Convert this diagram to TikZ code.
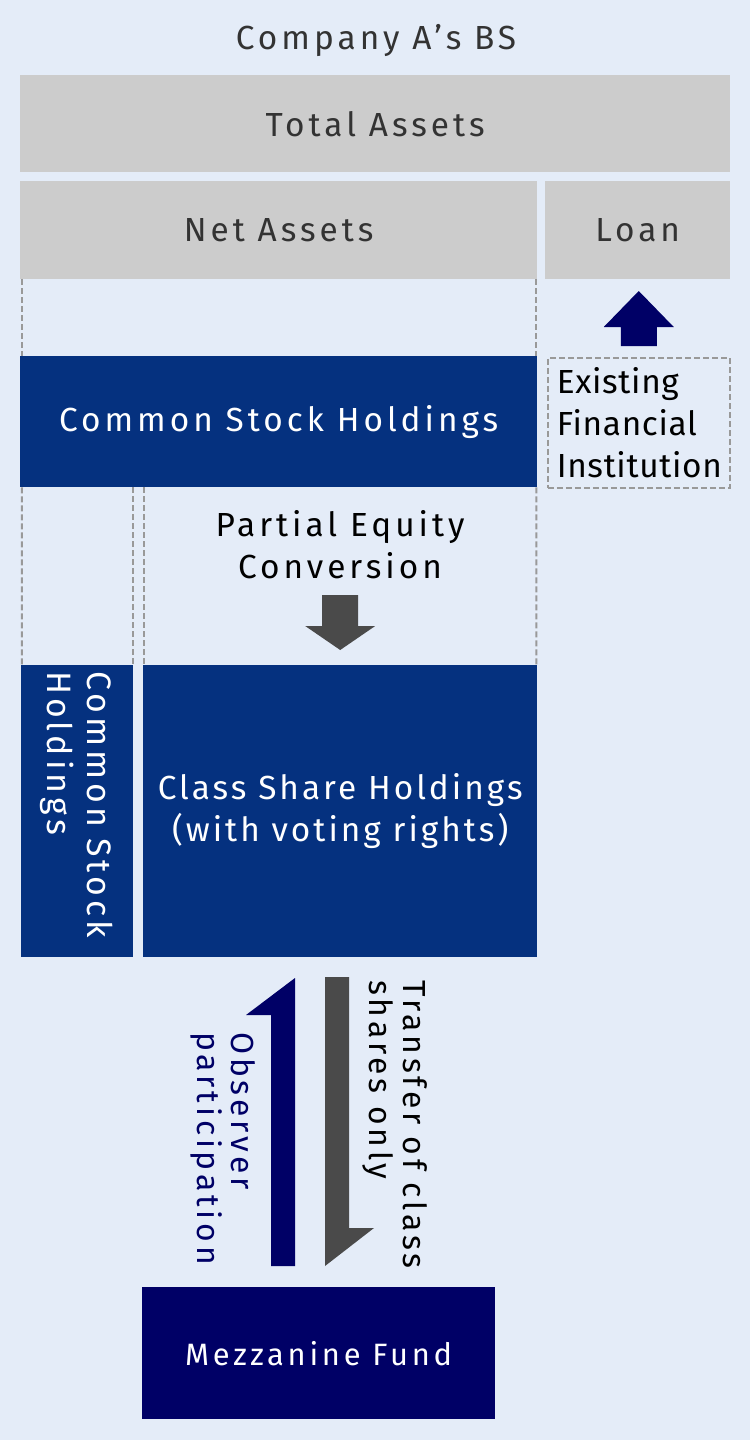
\documentclass[tikz,border=0pt]{standalone}
\usepackage{fontspec}
\setmainfont{Fira Sans}[LetterSpace=12]
\newfontfamily\plainfont{Fira Sans}[LetterSpace=2]
\newfontfamily\tightfont{Fira Sans}[LetterSpace=9]
\usetikzlibrary{positioning}

\definecolor{bgblue}{HTML}{E4ECF8}
\definecolor{boxgray}{HTML}{CCCCCC}
\definecolor{stockblue}{HTML}{05317F}
\definecolor{fundnavy}{HTML}{000066}
\definecolor{arrowgray}{HTML}{4A4A4A}
\definecolor{dashgray}{HTML}{999999}
\definecolor{textgray}{HTML}{333333}

\tikzset{
  graybox/.style={fill=boxgray,text=textgray,inner sep=0pt,anchor=north west},
  bluebox/.style={fill=stockblue,text=white,inner sep=0pt,anchor=north west,align=center},
  guide/.style={dashgray,line width=2bp,dash pattern=on 6bp off 3bp},
  big/.style={font=\fontsize{33.5}{42}\selectfont},
  side/.style={font=\fontsize{32}{34}\selectfont,rotate=-90,align=left,anchor=west,inner sep=0pt}
}

\begin{document}
\begin{tikzpicture}[x=1bp,y=-1bp,big]
\fill[bgblue] (0,0) rectangle (750,1440);
\useasboundingbox (0,0) rectangle (750,1440);

\node[text=textgray] (title) at (376,40) {Company A’s BS};

\node[graybox,minimum width=710bp,minimum height=97bp] (total) at (20,75) {Total Assets};
\node[graybox,minimum width=517bp,minimum height=98bp] (net) at (20,181) {Net Assets};
\node[graybox,minimum width=185bp,minimum height=98bp] (loan) at (545,181) {Loan};

\node[bluebox,minimum width=517bp,minimum height=131bp] (common) at (20,356) {Common Stock Holdings};
\node[guide,line width=1.5bp,draw,anchor=north west,align=left,text width=164bp,text=black,
      inner xsep=9bp,inner ysep=0pt,minimum height=130bp] (bank) at (547,357)
      {\plainfont Existing\\ \plainfont Financial\\ \plainfont Institution};

% up arrow: loan from the bank
\fill[fundnavy] (bank.north) ++(-18,-11) -- ++(0,-19) -- ++(-17,0) -- ++(35,-36)
  -- ++(35,36) -- ++(-17,0) -- ++(0,19) -- cycle;

\draw[guide] ([xshift=2bp]net.south west) -- ([xshift=2bp]common.north west);
\draw[guide] ([xshift=-1bp]net.south east) -- ([xshift=-1bp]common.north east);

\node[bluebox,anchor=center,rotate=-90,align=left,minimum width=292bp,minimum height=112bp,
      text width=280bp,inner xsep=6bp,font=\fontsize{34}{40}\selectfont] (vcommon) at (77,811)
      {Common Stock\\Holdings};
\node[bluebox,minimum width=394bp,minimum height=292bp] (classhold) at (143,665)
      {\tightfont Class Share Holdings\\ \tightfont (with voting rights)};

\draw[guide] ([xshift=2bp]common.south west) -- ([xshift=1bp]vcommon.south west);
\draw[guide] (vcommon.north west |- common.south) -- (vcommon.north west);
\draw[guide] ([xshift=1bp]classhold.north west |- common.south) -- ([xshift=1bp]classhold.north west);
\draw[guide] ([xshift=-1bp]common.south east) -- ([xshift=-1bp]classhold.north east);

\node[align=center,text=black] (conv) at (340,545) {Partial Equity\\Conversion};
\fill[arrowgray] (classhold.north) ++(0,-15) -- ++(-35,-24) -- ++(17,0) -- ++(0,-31)
  -- ++(36,0) -- ++(0,31) -- ++(17,0) -- cycle;

\node[fill=fundnavy,text=white,inner sep=0pt,anchor=north west,minimum width=353bp,
      minimum height=132bp,font=\fontsize{31}{38}\selectfont] (fund) at (142,1287) {Mezzanine Fund};

% half arrows between fund and class shares
\coordinate (upfoot) at (283,1266);
\coordinate (downfoot) at (337,1266);
\fill[fundnavy] (upfoot) ++(-12,0) -- ++(24,0) -- ++(0,-288) -- ++(-49,37) -- ++(25,0) -- cycle;
\fill[arrowgray] (downfoot) ++(-12,0) -- ++(0,-289) -- ++(24,0) -- ++(0,251) -- ++(25,0) -- cycle;

\node[side,text=fundnavy] (observe) at (223,1032) {Observer\\participation};
\node[side,text=black] (transfer) at (395,980) {Transfer of class\\shares only};

\end{tikzpicture}
\end{document}
